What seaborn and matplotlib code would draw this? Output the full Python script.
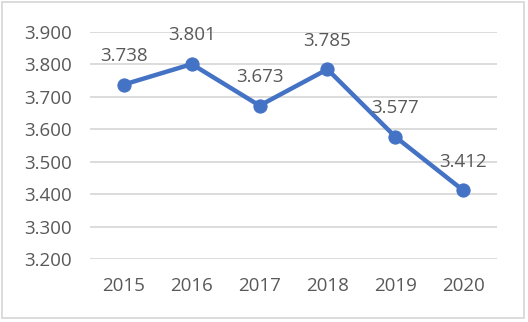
import matplotlib
matplotlib.use("Agg")
import matplotlib.pyplot as plt
import seaborn as sns
import pandas as pd
from matplotlib.patches import Rectangle

years = ["2015", "2016", "2017", "2018", "2019", "2020"]
values = [3.738, 3.801, 3.673, 3.785, 3.577, 3.412]
y_ticks = [3.2, 3.3, 3.4, 3.5, 3.6, 3.7, 3.8, 3.9]
y_tick_labels = ["3.200", "3.300", "3.400", "3.500", "3.600", "3.700", "3.800", "3.900"]
value_labels = ["3.738", "3.801", "3.673", "3.785", "3.577", "3.412"]

sns.set_style("white")
plt.rcParams['font.family'] = ['Open Sans', 'DejaVu Sans']

df = pd.DataFrame({"year": years, "value": values})

fig = plt.figure(figsize=(5.28, 3.22), dpi=100)
ax = fig.add_axes([90/528, 1-259/322, 407/528, 227/322])

line_color = "#4472C4"
text_color = "#595959"

sns.lineplot(data=df, x="year", y="value", ax=ax, color=line_color, linewidth=3.2,
             marker="o", markersize=9.5, markeredgecolor=line_color, sort=False)

ax.set_xlim(-0.5, 5.5)
ax.set_ylim(3.2, 3.9)
ax.set_yticks(y_ticks)
ax.set_yticklabels(y_tick_labels)
ax.yaxis.grid(True, color="#D9D9D9", linewidth=1.3)
ax.set_axisbelow(True)
for s in ax.spines.values():
    s.set_visible(False)
ax.tick_params(axis="both", length=0, labelsize=13.5, colors=text_color)
ax.tick_params(axis="y", pad=13)
ax.tick_params(axis="x", pad=13)
ax.set_xlabel("")
ax.set_ylabel("")

for i, (v, lab) in enumerate(zip(values, value_labels)):
    ax.annotate(lab, (i, v), xytext=(0, 17), textcoords="offset points",
                ha="center", va="baseline", fontsize=13.5, color=text_color)

fig.patches.append(Rectangle((2/528, 4/322), 522/528, 316/322, transform=fig.transFigure,
                             fill=False, edgecolor="#D9D9D9", linewidth=1.3))

fig.savefig("out.png", dpi=100)
